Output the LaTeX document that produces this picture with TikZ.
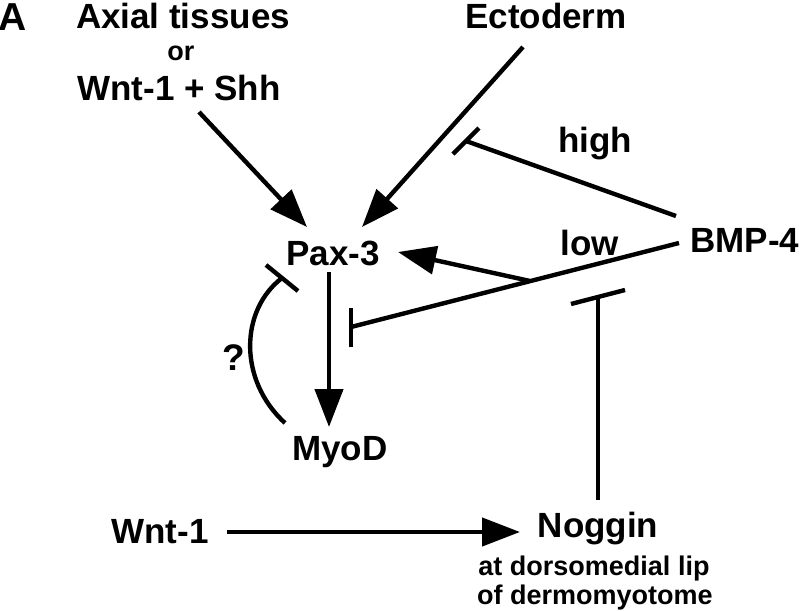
\documentclass[tikz,border=0pt]{standalone}
\usepackage{fontspec}
\setmainfont{Liberation Sans}
\usetikzlibrary{arrows.meta,positioning,calc}
\tikzset{
  lbl/.style={font=\fontsize{17.5}{20}\selectfont\bfseries, anchor=base, inner sep=0pt},
  sml/.style={font=\fontsize{13.5}{16}\selectfont\bfseries, anchor=base, inner sep=0pt},
  strelica/.style={line width=2.2pt, -{Triangle[length=19pt,width=14pt]}},
  kocnica/.style={line width=2.2pt}
}
\begin{document}
\begin{tikzpicture}[x=0.5pt,y=-0.5pt]
\useasboundingbox (0,0) rectangle (800,611);
\draw (13,30) node(oznA)[lbl,font=\fontsize{19.5}{22}\selectfont\bfseries] {A};
\draw (183,28) node(axial)[lbl] {Axial tissues};
\draw (181,60) node(ili)[sml] {or};
\draw (179,100) node(wntshh)[lbl] {Wnt-1 + Shh};
\draw (546,28) node(ecto)[lbl] {Ectoderm};
\draw (333,265) node(pax)[lbl] {Pax-3};
\draw (340,460) node(myod)[lbl] {MyoD};
\draw (745,252) node(bmp)[lbl] {BMP-4};
\draw (595,152) node(high)[lbl] {high};
\draw (590,255) node(low)[lbl] {low};
\draw (234,370) node(upit)[sml,font=\fontsize{18.5}{20}\selectfont\bfseries] {?};
\draw (160,543) node(wnt)[lbl] {Wnt-1};
\draw (598,537) node(nog)[lbl] {Noggin};
\draw (594,575) node(usnica)[sml] {at dorsomedial lip};
\draw (595,604) node(dermo)[sml] {of dermomyotome};

\coordinate (visokaT) at (466,141);
\coordinate (niskaT) at (351,327);
\coordinate (noginT) at (598,297);
\coordinate (upitT) at (282,278);
\coordinate (spoj) at (530,281);

\draw[strelica] ([shift={(20,12)}]wntshh.base) -- ([shift={(-26,-38)}]pax.base);
\draw[strelica] ([shift={(-23,19)}]ecto.base) -- ([shift={(29,-38)}]pax.base);
\draw[strelica] ([shift={(-4,7)}]pax.base) -- ([shift={(-11,-33)}]myod.base);
\draw[strelica] ([shift={(67,-11)}]wnt.base) -- ([shift={(-78,-5)}]nog.base);
\draw[strelica] (spoj) -- ([shift={(65,-13)}]pax.base);

\draw[kocnica] ([shift={(-69,-36)}]bmp.base) -- (visokaT);
\draw[kocnica] ([shift={(-13,13)}]visokaT) -- ([shift={(13,-13)}]visokaT);
\draw[kocnica] ([shift={(-66,-9)}]bmp.base) -- (niskaT);
\draw[kocnica] ([shift={(0,-19)}]niskaT) -- ([shift={(0,20)}]niskaT);
\draw[kocnica] ([shift={(0,-37)}]nog.base) -- (noginT);
\draw[kocnica] ([shift={(-27,7)}]noginT) -- ([shift={(27,-7)}]noginT);
\draw[kocnica] ([shift={(-55,-37)}]myod.base) .. controls (238,380) and (240,310) .. (upitT);
\draw[kocnica] ([shift={(-16,-13)}]upitT) -- ([shift={(16,13)}]upitT);
\end{tikzpicture}
\end{document}
